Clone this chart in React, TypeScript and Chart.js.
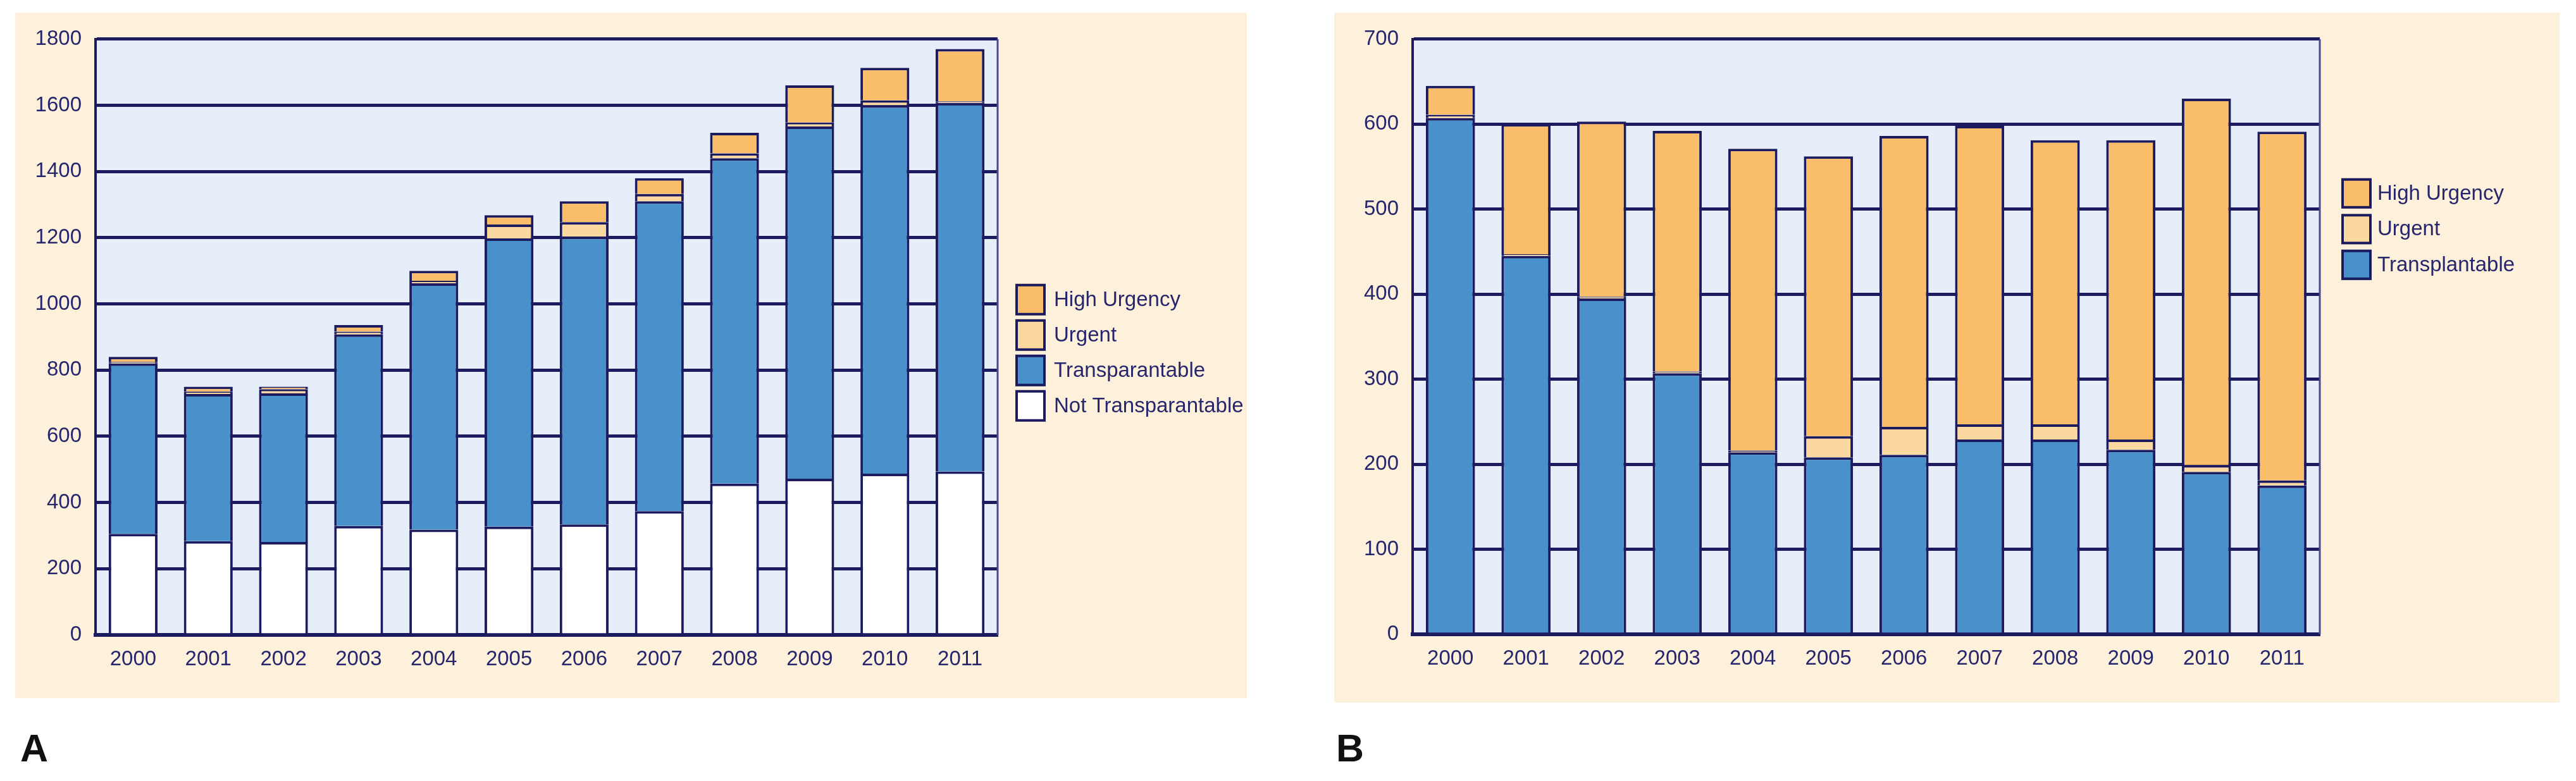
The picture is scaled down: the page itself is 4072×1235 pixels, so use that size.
import React, { useEffect, useRef } from 'react';
import { Chart, registerables } from 'chart.js';

Chart.register(...registerables);

// ---------- data ----------
const years = ['2000', '2001', '2002', '2003', '2004', '2005', '2006', '2007', '2008', '2009', '2010', '2011'];

// Panel A (stack order bottom -> top)
const notTransA = [305, 283, 281, 329, 318, 327, 334, 374, 457, 472, 487, 494];
const transA = [515, 445, 449, 579, 744, 871, 869, 936, 983, 1064, 1113, 1113];
const urgentA = [5, 7, 12, 8, 8, 42, 44, 22, 15, 12, 15, 5];
const highA = [15, 15, 8, 20, 30, 28, 63, 48, 62, 112, 98, 158];

// Panel B (stack order bottom -> top)
const transB = [607, 445, 395, 307, 214, 208, 211, 229, 229, 217, 191, 175];
const urgentB = [4, 2, 2, 2, 2, 25, 33, 18, 18, 12, 8, 6];
const highB = [34, 153, 206, 283, 355, 329, 342, 351, 334, 352, 431, 410];

const labelsA = ['Not Transparantable', 'Transparantable', 'Urgent', 'High Urgency'];
const labelsB = ['Transplantable', 'Urgent', 'High Urgency'];

// ---------- styles ----------
const NAVY = '#1D1B60';
const TEXT = '#27266C';
const BLUE = '#4991CB';
const ORANGE = '#FABD6A';
const PEACH = '#FBD8A0';
const WHITE = '#FFFFFF';
const CREAM = '#FDF1DC';
const PLOT_BG = '#E5EEF9';

function detectFamily(): { family: string; size: number } {
  try {
    const c = document.createElement('canvas').getContext('2d');
    if (c) {
      const s = '1800 Transparantable';
      c.font = '100px serif';
      const w0 = c.measureText(s).width;
      c.font = '100px "Liberation Sans Narrow", serif';
      const w1 = c.measureText(s).width;
      if (Math.abs(w0 - w1) > 0.5) return { family: '"Liberation Sans Narrow"', size: 37 };
    }
  } catch (e) {}
  return { family: '"Liberation Sans", Arial, sans-serif', size: 33 };
}

const plotBg = {
  id: 'plotBg',
  beforeDraw(chart: any, _a: any, opts: any) {
    const { ctx, chartArea } = chart;
    ctx.save();
    ctx.fillStyle = opts.color;
    ctx.fillRect(chartArea.left, chartArea.top, chartArea.width, chartArea.height);
    ctx.restore();
  },
  beforeDatasetsDraw(chart: any) {
    const { ctx, chartArea } = chart;
    ctx.save();
    ctx.strokeStyle = '#4A4990';
    ctx.lineWidth = 3;
    ctx.beginPath();
    ctx.moveTo(chartArea.right, chartArea.top);
    ctx.lineTo(chartArea.right, chartArea.bottom);
    ctx.stroke();
    ctx.restore();
  },
};

const sideLegend = {
  id: 'sideLegend',
  afterDraw(chart: any, _a: any, opts: any) {
    const { ctx, chartArea } = chart;
    const ds = chart.data.datasets.slice().reverse();
    const x = chartArea.right + opts.offsetX;
    let y = chartArea.top + opts.offsetY;
    ctx.save();
    ctx.font = `${opts.fontSize}px ${opts.family}`;
    ctx.textBaseline = 'middle';
    ctx.textAlign = 'left';
    for (const d of ds) {
      ctx.fillStyle = d.backgroundColor;
      ctx.fillRect(x, y, opts.boxW, opts.boxH);
      ctx.strokeStyle = NAVY;
      ctx.lineWidth = 4;
      ctx.strokeRect(x + 2, y + 2, opts.boxW - 4, opts.boxH - 4);
      ctx.fillStyle = TEXT;
      ctx.fillText(d.label, x + opts.boxW + opts.gap, y + opts.boxH / 2 + 1);
      y += opts.pitch;
    }
    ctx.restore();
  },
};

function makeConfig(
  datasets: { label: string; data: number[]; color: string }[],
  yMax: number,
  step: number,
  lay: { top: number; right: number; bottom: number; yWidth: number },
  leg: any,
  font: { family: string; size: number }
): any {
  return {
    type: 'bar',
    data: {
      labels: years,
      datasets: datasets.map((d) => ({
        label: d.label,
        data: d.data,
        backgroundColor: d.color,
        borderColor: NAVY,
        borderWidth: 4,
        borderSkipped: 'start',
        categoryPercentage: 1,
        barPercentage: 0.65,
      })),
    },
    options: {
      animation: false,
      responsive: false,
      layout: { padding: { left: 0, top: lay.top, right: lay.right, bottom: lay.bottom } },
      plugins: {
        legend: { display: false },
        tooltip: { enabled: false },
        plotBg: { color: PLOT_BG },
        sideLegend: { ...leg, family: font.family, fontSize: font.size },
      },
      scales: {
        x: {
          stacked: true,
          offset: true,
          grid: { display: false, drawTicks: false },
          border: { display: true, color: NAVY, width: 6 },
          ticks: { color: TEXT, font: { family: font.family, size: font.size }, padding: 19, maxRotation: 0 },
          afterFit: (s: any) => {
            s.height = 60;
          },
        },
        y: {
          stacked: true,
          min: 0,
          max: yMax,
          grid: { color: NAVY, lineWidth: 5, drawTicks: false },
          border: { display: true, color: NAVY, width: 4 },
          ticks: {
            stepSize: step,
            color: TEXT,
            font: { family: font.family, size: font.size },
            padding: 22,
            callback: (v: any) => String(v),
          },
          afterFit: (s: any) => {
            s.width = lay.yWidth;
          },
        },
      },
    },
    plugins: [plotBg, sideLegend],
  };
}

function ChartCanvas({ width, height, build }: { width: number; height: number; build: () => any }) {
  const ref = useRef<HTMLCanvasElement | null>(null);
  useEffect(() => {
    if (!ref.current) return;
    const chart = new Chart(ref.current, build());
    return () => chart.destroy();
  }, []);
  return <canvas ref={ref} width={width} height={height} style={{ display: 'block', width, height }} />;
}

export default function App() {
  const font = detectFamily();
  const letterFont = font.family;
  const buildA = () =>
    makeConfig(
      [
        { label: labelsA[0], data: notTransA, color: WHITE },
        { label: labelsA[1], data: transA, color: BLUE },
        { label: labelsA[2], data: urgentA, color: PEACH },
        { label: labelsA[3], data: highA, color: ORANGE },
      ],
      1800,
      200,
      { top: 37, right: 394, bottom: 40, yWidth: 127 },
      { offsetX: 28, offsetY: 387, boxW: 48, boxH: 50, pitch: 56, gap: 13 },
      font
    );
  const buildB = () =>
    makeConfig(
      [
        { label: labelsB[0], data: transB, color: BLUE },
        { label: labelsB[1], data: urgentB, color: PEACH },
        { label: labelsB[2], data: highB, color: ORANGE },
      ],
      700,
      100,
      { top: 35, right: 379, bottom: 48, yWidth: 124 },
      { offsetX: 34, offsetY: 220, boxW: 48, boxH: 48, pitch: 56.5, gap: 9 },
      font
    );
  return (
    <div style={{ position: 'relative', width: 4056, height: 1219 }}>
      <div style={{ position: 'absolute', left: 16, top: 12, width: 1947, height: 1084, background: CREAM }}>
        <ChartCanvas width={1947} height={1084} build={buildA} />
      </div>
      <div style={{ position: 'absolute', left: 2101, top: 12, width: 1937, height: 1091, background: CREAM }}>
        <ChartCanvas width={1937} height={1091} build={buildB} />
      </div>
      <span
        style={{
          position: 'absolute',
          left: 24,
          top: 1145,
          fontFamily: letterFont,
          fontWeight: 'bold',
          fontSize: 61,
          lineHeight: 1,
          color: '#111',
        }}
      >
        A
      </span>
      <span
        style={{
          position: 'absolute',
          left: 2104,
          top: 1145,
          fontFamily: letterFont,
          fontWeight: 'bold',
          fontSize: 61,
          lineHeight: 1,
          color: '#111',
        }}
      >
        B
      </span>
    </div>
  );
}
